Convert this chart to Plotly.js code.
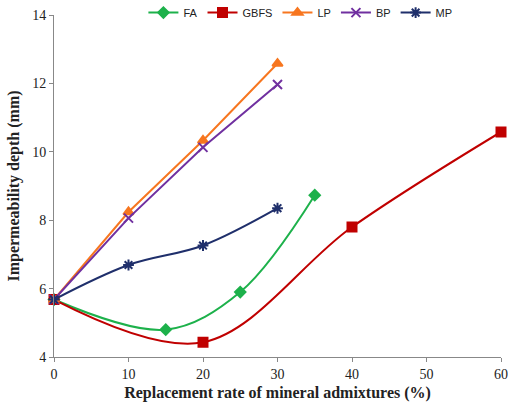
<!DOCTYPE html>
<html>
<head>
<meta charset="utf-8">
<script src="https://cdn.plot.ly/plotly-3.0.1.min.js"></script>
<style>
  html, body { margin: 0; padding: 0; background: #fff; }
  #chart { width: 508px; height: 406px; }
</style>
</head>
<body>
<div id="chart"></div>
<script>
// Impermeability depth versus replacement rate for each mineral admixture
const faRate = [0, 15, 25, 35];
const faDepth = [5.68, 4.8, 5.9, 8.73];

const gbfsRate = [0, 20, 40, 60];
const gbfsDepth = [5.68, 4.43, 7.8, 10.58];

const lpRate = [0, 10, 20, 30];
const lpDepth = [5.68, 8.24, 10.33, 12.58];

const bpRate = [0, 10, 20, 30];
const bpDepth = [5.68, 8.06, 10.13, 11.97];

const mpRate = [0, 10, 20, 30];
const mpDepth = [5.68, 6.69, 7.26, 8.35];

const xTicks = [0, 10, 20, 30, 40, 50, 60];
const yTicks = [4, 6, 8, 10, 12, 14];

function series(name, x, y, color, symbol, size, shape) {
  return {
    type: 'scatter', mode: 'lines+markers', name: name, x: x, y: y,
    cliponaxis: false,
    line: { color: color, width: 2, shape: shape, smoothing: 1 },
    marker: { color: color, symbol: symbol, size: size,
              line: { color: color, width: 2 } }
  };
}

const traces = [
  series('FA', faRate, faDepth, '#1DB14B', 'diamond', 8, 'spline'),
  series('GBFS', gbfsRate, gbfsDepth, '#C00000', 'square', 9, 'spline'),
  series('LP', lpRate, lpDepth, '#F7761F', 'triangle-up', 9, 'linear'),
  series('BP', bpRate, bpDepth, '#7030A0', 'x-thin-open', 9, 'linear'),
  series('MP', mpRate, mpDepth, '#1F2F6B', 'asterisk-open', 9, 'spline')
];

const serif = 'Liberation Serif, Times New Roman, serif';

const layout = {
  width: 508, height: 406,
  margin: { l: 54, r: 7, t: 15, b: 49, autoexpand: false },
  paper_bgcolor: '#fff', plot_bgcolor: '#fff',
  showlegend: true,
  legend: {
    orientation: 'h', x: 0.2, xanchor: 'left', y: 1.007, yanchor: 'middle',
    font: { family: 'Liberation Sans, Arial, sans-serif', size: 11, color: '#222' },
    itemwidth: 30, tracegroupgap: 0, bgcolor: 'rgba(0,0,0,0)'
  },
  xaxis: {
    range: [0, 60], tickvals: xTicks, ticktext: xTicks.map(String),
    showgrid: false, zeroline: false, showline: true, linecolor: '#888', linewidth: 1,
    ticks: 'outside', ticklen: 4, tickcolor: '#888',
    tickfont: { family: serif, size: 14, color: '#222' },
    title: { text: '<b>Replacement rate of mineral admixtures (%)</b>',
             font: { family: serif, size: 16, color: '#222' }, standoff: 6 }
  },
  yaxis: {
    range: [4, 14], tickvals: yTicks, ticktext: yTicks.map(String),
    showgrid: false, zeroline: false, showline: true, linecolor: '#888', linewidth: 1,
    ticks: 'outside', ticklen: 4, tickcolor: '#888',
    tickfont: { family: serif, size: 14, color: '#222' },
    title: { text: '<b>Impermeability depth (mm)</b>',
             font: { family: serif, size: 16, color: '#222' }, standoff: 8 }
  }
};

Plotly.newPlot('chart', traces, layout, { displayModeBar: false, staticPlot: true });
</script>
</body>
</html>
